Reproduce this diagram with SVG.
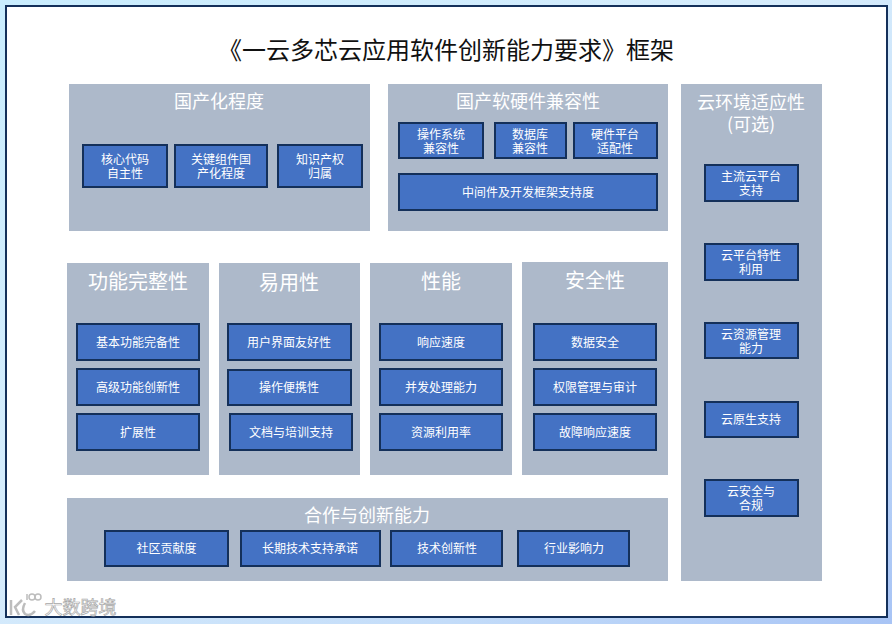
<svg xmlns="http://www.w3.org/2000/svg" width="892" height="624" viewBox="0 0 892 624">
<style>
text{font-family:"Noto Sans CJK SC","Liberation Sans",sans-serif;text-anchor:middle}
.p{fill:#adb9ca}
.b{fill:#4472c4;stroke:#14305a;stroke-width:2}
.t{fill:#fff;font-size:12px}
.h{fill:#fff;font-size:18px}
.g{fill:#fff;font-size:20px}
.w{fill:#fff;stroke:#a8a8a8;stroke-width:.7;font-size:18px}
</style>
<defs><linearGradient id="bg" x1="0" y1="0" x2="1" y2="1"><stop offset="0" stop-color="#c9edfe"/><stop offset=".45" stop-color="#d6ecfc"/><stop offset=".75" stop-color="#c3dcf9"/><stop offset="1" stop-color="#a8c4f5"/></linearGradient></defs>
<rect width="892" height="624" fill="url(#bg)"/>
<rect x="6" y="6" width="881" height="611" fill="#fff" stroke="#14305a" stroke-width="2"/>
<text x="446" y="59" font-size="24" fill="#111">《一云多芯云应用软件创新能力要求》框架</text>

<g id="panel-guochanhua"><rect class="p" x="69" y="84" width="301" height="147"/><text class="h" x="219" y="108">国产化程度</text>
<rect class="b" x="83" y="145" width="84" height="42"/><text class="t" y="164"><tspan x="125">核心代码</tspan><tspan x="125" dy="14">自主性</tspan></text>
<rect class="b" x="175" y="145" width="92" height="42"/><text class="t" y="164"><tspan x="221">关键组件国</tspan><tspan x="221" dy="14">产化程度</tspan></text>
<rect class="b" x="278" y="145" width="84" height="42"/><text class="t" y="164"><tspan x="320">知识产权</tspan><tspan x="320" dy="14">归属</tspan></text></g>

<g id="panel-jianrong"><rect class="p" x="388" y="84" width="280" height="147"/><text class="h" x="528" y="108">国产软硬件兼容性</text>
<rect class="b" x="399" y="123" width="84" height="35"/><text class="t" y="139"><tspan x="441">操作系统</tspan><tspan x="441" dy="14">兼容性</tspan></text>
<rect class="b" x="495" y="123" width="71" height="35"/><text class="t" y="139"><tspan x="530">数据库</tspan><tspan x="530" dy="14">兼容性</tspan></text>
<rect class="b" x="574" y="123" width="83" height="35"/><text class="t" y="139"><tspan x="615">硬件平台</tspan><tspan x="615" dy="14">适配性</tspan></text>
<rect class="b" x="399" y="174" width="258" height="36"/><text class="t" x="528" y="197">中间件及开发框架支持度</text></g>

<g id="panel-yun"><rect class="p" x="681" y="84" width="141" height="497"/><text class="h" y="109"><tspan x="751">云环境适应性</tspan><tspan x="751" dy="22">(可选)</tspan></text>
<rect class="b" x="705" y="165" width="93" height="36"/><text class="t" y="181"><tspan x="751">主流云平台</tspan><tspan x="751" dy="14">支持</tspan></text>
<rect class="b" x="705" y="244" width="93" height="36"/><text class="t" y="260"><tspan x="751">云平台特性</tspan><tspan x="751" dy="14">利用</tspan></text>
<rect class="b" x="705" y="323" width="93" height="35"/><text class="t" y="339"><tspan x="751">云资源管理</tspan><tspan x="751" dy="14">能力</tspan></text>
<rect class="b" x="705" y="402" width="93" height="35"/><text class="t" x="751" y="424">云原生支持</text>
<rect class="b" x="705" y="480" width="93" height="36"/><text class="t" y="496"><tspan x="751">云安全与</tspan><tspan x="751" dy="14">合规</tspan></text></g>

<g id="panel-gongneng"><rect class="p" x="67" y="263" width="142" height="212"/><text class="g" x="138" y="289">功能完整性</text>
<rect class="b" x="77" y="324" width="122" height="36"/><text class="t" x="138" y="347">基本功能完备性</text>
<rect class="b" x="77" y="369" width="122" height="36"/><text class="t" x="138" y="392">高级功能创新性</text>
<rect class="b" x="77" y="414" width="122" height="36"/><text class="t" x="138" y="437">扩展性</text></g>

<g id="panel-yiyong"><rect class="p" x="219" y="263" width="141" height="212"/><text class="g" x="289" y="290">易用性</text>
<rect class="b" x="228" y="324" width="123" height="36"/><text class="t" x="289" y="347">用户界面友好性</text>
<rect class="b" x="228" y="370" width="123" height="35"/><text class="t" x="289" y="392">操作便携性</text>
<rect class="b" x="230" y="414" width="122" height="36"/><text class="t" x="291" y="437">文档与培训支持</text></g>

<g id="panel-xingneng"><rect class="p" x="370" y="263" width="142" height="212"/><text class="g" x="441" y="289">性能</text>
<rect class="b" x="380" y="324" width="122" height="36"/><text class="t" x="441" y="347">响应速度</text>
<rect class="b" x="380" y="369" width="122" height="36"/><text class="t" x="441" y="392">并发处理能力</text>
<rect class="b" x="380" y="414" width="122" height="36"/><text class="t" x="441" y="437">资源利用率</text></g>

<g id="panel-anquan"><rect class="p" x="522" y="262" width="146" height="213"/><text class="g" x="595" y="288">安全性</text>
<rect class="b" x="534" y="324" width="122" height="36"/><text class="t" x="595" y="347">数据安全</text>
<rect class="b" x="534" y="369" width="122" height="36"/><text class="t" x="595" y="392">权限管理与审计</text>
<rect class="b" x="534" y="414" width="122" height="36"/><text class="t" x="595" y="437">故障响应速度</text></g>

<g id="panel-hezuo"><rect class="p" x="67" y="498" width="601" height="83"/><text class="h" x="367" y="522">合作与创新能力</text>
<rect class="b" x="105" y="531" width="123" height="35"/><text class="t" x="166.500" y="553">社区贡献度</text>
<rect class="b" x="241" y="531" width="139" height="35"/><text class="t" x="310" y="553">长期技术支持承诺</text>
<rect class="b" x="391" y="531" width="111" height="35"/><text class="t" x="447" y="553">技术创新性</text>
<rect class="b" x="518" y="531" width="111" height="35"/><text class="t" x="574" y="553">行业影响力</text></g>

<g id="watermark" fill="none" stroke="#bdbdbd"><path stroke-width="2.500" d="M11 600V615M22 600L15 607L19 615M25 603Q21 610 25 614Q30 617 35 611"/><path stroke-width="1.500" d="M27 594V600"/><circle cx="32" cy="597" r="3" stroke-width="1.500"/><circle cx="38" cy="597" r="3" stroke-width="1.500"/></g>
<text class="w" x="80.500" y="614">大数跨境</text>
</svg>
